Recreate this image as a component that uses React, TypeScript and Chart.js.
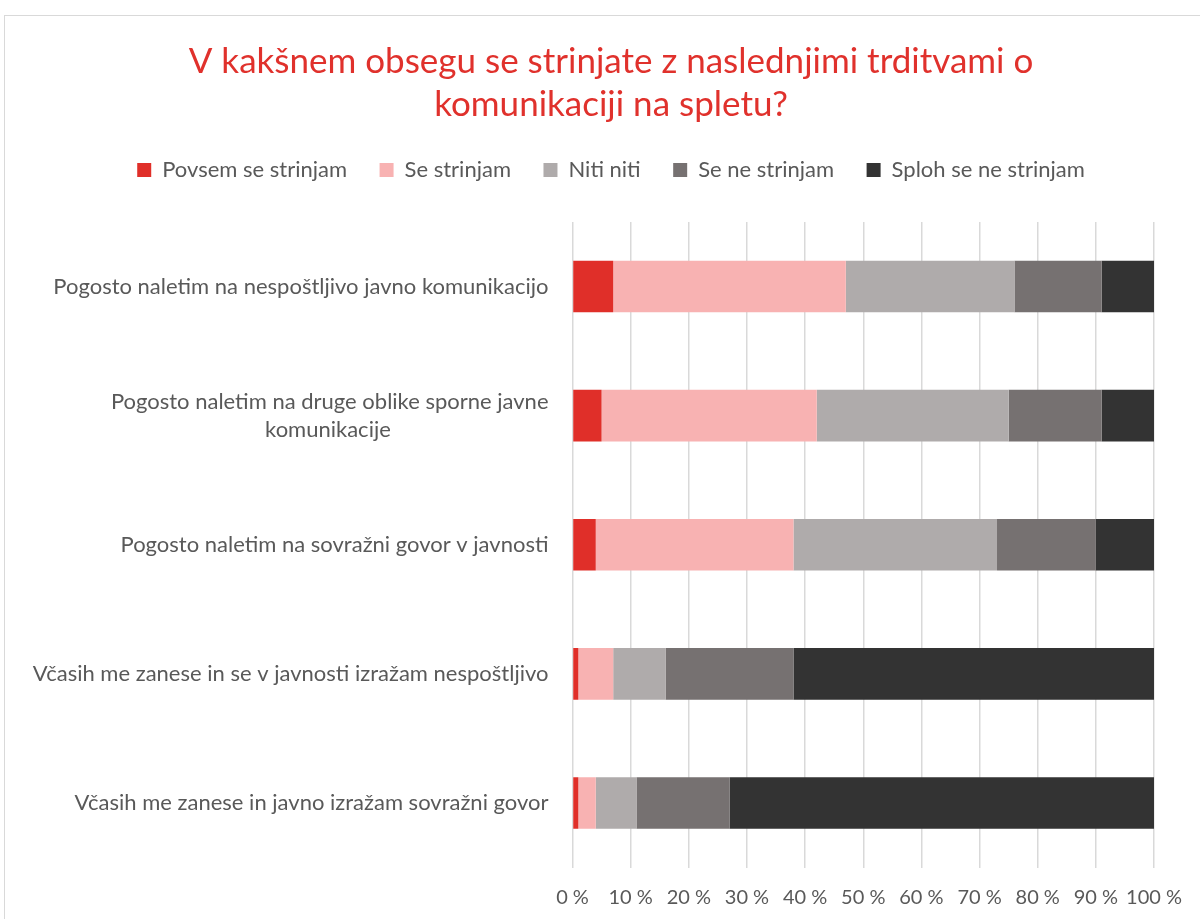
import React, { useEffect, useRef } from 'react';
import { Chart, registerables } from 'chart.js';

Chart.register(...registerables);

const titleLines = ['V kakšnem obsegu se strinjate z naslednjimi trditvami o', 'komunikaciji na spletu?'];

const categories: (string | string[])[] = [
  'Pogosto naletim na nespoštljivo javno komunikacijo',
  ['Pogosto naletim na druge oblike sporne javne', 'komunikacije' + ' '.repeat(28)],
  'Pogosto naletim na sovražni govor v javnosti',
  'Včasih me zanese in se v javnosti izražam nespoštljivo',
  'Včasih me zanese in javno izražam sovražni govor',
];

const seriesNames = ['Povsem se strinjam', 'Se strinjam', 'Niti niti', 'Se ne strinjam', 'Sploh se ne strinjam'];
const povsem = [7, 5, 4, 1, 1];
const seStrinjam = [40, 37, 34, 6, 3];
const nitiNiti = [29, 33, 35, 9, 7];
const seNeStrinjam = [15, 16, 17, 22, 16];
const splohSeNe = [9, 9, 10, 62, 73];
const seriesColors = ['#E02F29', '#F8B2B2', '#AFABAB', '#767171', '#333333'];
const xTicks = [0, 10, 20, 30, 40, 50, 60, 70, 80, 90, 100];

const FONT = 'Lato';
const TEXT = '#595959';

export default function App() {
  const ref = useRef<HTMLCanvasElement>(null);

  useEffect(() => {
    const values = [povsem, seStrinjam, nitiNiti, seNeStrinjam, splohSeNe];
    const bgPlugin = {
      id: 'bgFrame',
      beforeInit(chart: any) {
        const lg = chart.legend;
        if (lg && !lg.__patched) {
          const orig = lg.fit.bind(lg);
          lg.fit = function () {
            orig();
            this.height += 31;
          };
          lg.__patched = true;
        }
      },
      beforeDraw(chart: any) {
        const ctx = chart.ctx;
        ctx.save();
        ctx.fillStyle = '#ffffff';
        ctx.fillRect(0, 0, chart.width, chart.height);
        ctx.strokeStyle = '#D9D9D9';
        ctx.lineWidth = 1;
        ctx.strokeRect(4.5, 15.5, chart.width + 50, chart.height + 50);
        ctx.restore();
      },
    };

    const chart = new Chart(ref.current!, {
      type: 'bar',
      data: {
        labels: categories as any,
        datasets: seriesNames.map((name, i) => ({
          label: name,
          data: values[i],
          backgroundColor: seriesColors[i],
          borderWidth: 0,
          barPercentage: 0.4,
          categoryPercentage: 1,
        })),
      },
      options: {
        indexAxis: 'y',
        responsive: false,
        animation: false,
        layout: { padding: { left: 67, right: 45, top: 0, bottom: 0 } },
        plugins: {
          title: {
            display: true,
            text: titleLines,
            color: '#E0312C',
            font: { family: FONT, size: 35, weight: 'normal', lineHeight: 43 / 35 },
            padding: { top: 40.5, bottom: 0 },
          },
          legend: {
            position: 'top',
            labels: {
              boxWidth: 14,
              boxHeight: 14,
              padding: 32.5,
              color: TEXT,
              font: { family: FONT, size: 22 },
            },
          },
          tooltip: { enabled: false },
        },
        scales: {
          x: {
            stacked: true,
            min: 0,
            max: 100,
            afterBuildTicks: (s: any) => {
              s.ticks = xTicks.map((v) => ({ value: v }));
            },
            ticks: {
              callback: (v: any) => v + ' %',
              color: TEXT,
              font: { family: FONT, size: 20 },
              padding: 18,
              maxRotation: 0,
              autoSkip: false,
            },
            grid: { color: '#D9D9D9', lineWidth: 1.5, drawTicks: false },
            border: { display: false },
            afterFit: (s: any) => {
              s.height = 51.5;
            },
          },
          y: {
            stacked: true,
            ticks: {
              color: TEXT,
              font: { family: FONT, size: 22, lineHeight: 28 / 22 },
              padding: 16,
              autoSkip: false,
            },
            grid: { display: false },
            border: { display: false },
            afterFit: (s: any) => {
              s.width = 505.5;
              s._computeLabelArea = () => undefined;
            },
          },
        },
      } as any,
      plugins: [bgPlugin],
    });
    return () => chart.destroy();
  }, []);

  return (
    <div style={{ position: 'absolute', left: 0, top: 0, width: 1200, height: 919 }}>
      <canvas ref={ref} width={1200} height={919} style={{ display: 'block' }} />
    </div>
  );
}
